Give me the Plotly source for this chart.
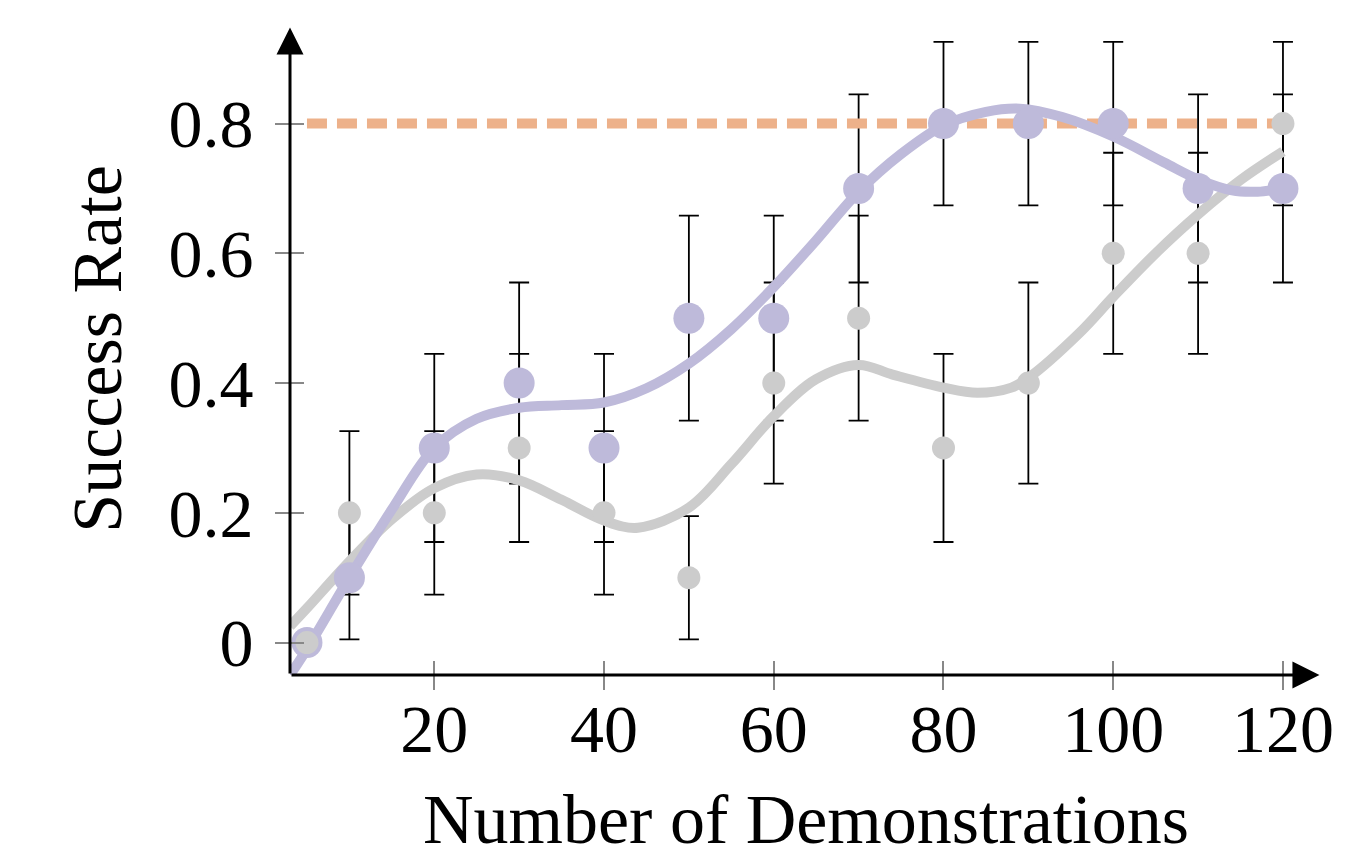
import plotly.graph_objects as go

# ---- data ----
demos = [5, 10, 20, 30, 40, 50, 60, 70, 80, 90, 100, 110, 120]
ours_rate = [0.0, 0.1, 0.3, 0.4, 0.3, 0.5, 0.5, 0.7, 0.8, 0.8, 0.8, 0.7, 0.7]
ours_err = [0.0, 0.095, 0.145, 0.155, 0.145, 0.158, 0.158, 0.145, 0.126, 0.126, 0.126, 0.145, 0.145]
base_rate = [0.0, 0.2, 0.2, 0.3, 0.2, 0.1, 0.4, 0.5, 0.3, 0.4, 0.6, 0.6, 0.8]
base_err = [0.0, 0.126, 0.126, 0.145, 0.126, 0.095, 0.155, 0.158, 0.145, 0.155, 0.155, 0.155, 0.126]

# smoothed trend curves
ours_fit_x = [3, 5, 10, 15, 20, 25, 30, 35, 40, 45, 50, 55, 60, 65, 70, 75, 80, 85, 89, 94, 100, 106, 110, 114, 117, 120]
ours_fit_y = [-0.05, -0.01, 0.10, 0.205, 0.30, 0.345, 0.362, 0.366, 0.370, 0.392, 0.43, 0.483, 0.548, 0.62, 0.695,
              0.753, 0.797, 0.818, 0.823, 0.81, 0.78, 0.74, 0.714, 0.697, 0.695, 0.70]
base_fit_x = [3, 5, 10, 15, 20, 25, 30, 35, 40, 44, 50, 55, 60, 65, 70, 74, 80, 84, 88, 90, 96, 100, 105, 110, 115, 120]
base_fit_y = [0.025, 0.053, 0.125, 0.19, 0.238, 0.259, 0.25, 0.22, 0.188, 0.177, 0.208, 0.275, 0.349, 0.406, 0.428,
              0.413, 0.393, 0.385, 0.393, 0.408, 0.477, 0.533, 0.60, 0.66, 0.713, 0.757]

ref_x = [5, 120]
ref_y = [0.8, 0.8]

x_ticks = [20, 40, 60, 80, 100, 120]
x_ticktext = ["20", "40", "60", "80", "100", "120"]
y_ticks = [0, 0.2, 0.4, 0.6, 0.8]
y_ticktext = ["0", "0.2", "0.4", "0.6", "0.8"]
x_title = "Number of Demonstrations"
y_title = "Success Rate"

PURPLE = "#BEBADA"
GRAY = "#CCCCCC"
ORANGE = "#EDB18A"
FONT = "Liberation Serif"
X_RANGE = [3, 124.6]
Y_RANGE = [-0.05, 0.955]

fig = go.Figure()

transparent = dict(color="rgba(0,0,0,0)", size=1)
eb = dict(type="data", thickness=1.8, width=10, color="black", visible=True)

fig.add_trace(go.Scatter(x=demos, y=ours_rate, mode="markers", marker=transparent,
                         error_y=dict(array=ours_err, **eb), hoverinfo="skip", showlegend=False))
fig.add_trace(go.Scatter(x=demos, y=base_rate, mode="markers", marker=transparent,
                         error_y=dict(array=base_err, **eb), hoverinfo="skip", showlegend=False))

fig.add_trace(go.Scatter(x=ref_x, y=ref_y, mode="lines",
                         line=dict(color=ORANGE, width=10, dash="20px,10px"), showlegend=False))

fig.add_trace(go.Scatter(x=base_fit_x, y=base_fit_y, mode="lines",
                         line=dict(color=GRAY, width=10, shape="spline", smoothing=1), showlegend=False))
fig.add_trace(go.Scatter(x=ours_fit_x, y=ours_fit_y, mode="lines",
                         line=dict(color=PURPLE, width=10, shape="spline", smoothing=1), showlegend=False))

fig.add_trace(go.Scatter(x=demos, y=ours_rate, mode="markers",
                         marker=dict(color=PURPLE, size=31), showlegend=False))
fig.add_trace(go.Scatter(x=demos, y=base_rate, mode="markers",
                         marker=dict(color=GRAY, size=23), showlegend=False))

tickfont = dict(family=FONT, size=68, color="black")
titlefont = dict(family=FONT, size=70, color="black")

# page body has an 8px margin, so the figure is offset by 8px
fig.update_layout(
    width=1337, height=845,
    margin=dict(l=282, r=23, t=15, b=178),
    paper_bgcolor="white", plot_bgcolor="white",
    font=dict(family=FONT, color="black"),
    xaxis=dict(range=X_RANGE, tickvals=x_ticks, ticktext=x_ticktext, ticks="outside",
               ticklen=14, tickwidth=1.5, tickcolor="#888888", showgrid=False, zeroline=False,
               showline=False, tickfont=tickfont, automargin=False, ticklabelstandoff=-20),
    yaxis=dict(range=Y_RANGE, tickvals=y_ticks, ticktext=y_ticktext, ticks="outside",
               ticklen=14, tickwidth=1.5, tickcolor="#888888", showgrid=False, zeroline=False,
               showline=False, tickfont=tickfont, automargin=False, ticklabelstandoff=8,
               title=dict(text=y_title, font=titlefont, standoff=23)),
    xaxis2=dict(range=X_RANGE, overlaying="x", side="bottom", tickvals=x_ticks, ticks="inside",
                ticklen=14, tickwidth=1.5, tickcolor="#888888", showticklabels=False,
                showgrid=False, zeroline=False, showline=False, anchor="y", automargin=False),
    yaxis2=dict(range=Y_RANGE, overlaying="y", side="left", tickvals=y_ticks, ticks="inside",
                ticklen=14, tickwidth=1.5, tickcolor="#888888", showticklabels=False,
                showgrid=False, zeroline=False, showline=False, anchor="x", automargin=False),
)

# dummy trace to activate overlay axes
fig.add_trace(go.Scatter(x=[None], y=[None], xaxis="x2", yaxis="y2", showlegend=False, hoverinfo="skip"))

# x-axis title placed as annotation (axis title gets clamped inside the margin)
fig.add_annotation(x=0.5, y=-0.222, xref="paper", yref="paper", text=x_title, showarrow=False,
                   font=titlefont, xanchor="center", yanchor="middle")

# axis lines with arrowheads
fig.add_annotation(x=124.3, y=Y_RANGE[0], ax=X_RANGE[0], ay=Y_RANGE[0], xref="x", yref="y",
                   axref="x", ayref="y", text="", showarrow=True, arrowhead=2, arrowsize=1.8,
                   arrowwidth=3, arrowcolor="black", standoff=0, startstandoff=0)
fig.add_annotation(x=X_RANGE[0], y=0.948, ax=X_RANGE[0], ay=Y_RANGE[0], xref="x", yref="y",
                   axref="x", ayref="y", text="", showarrow=True, arrowhead=2, arrowsize=1.8,
                   arrowwidth=3, arrowcolor="black", standoff=0, startstandoff=0)

fig.write_html("out.html")
